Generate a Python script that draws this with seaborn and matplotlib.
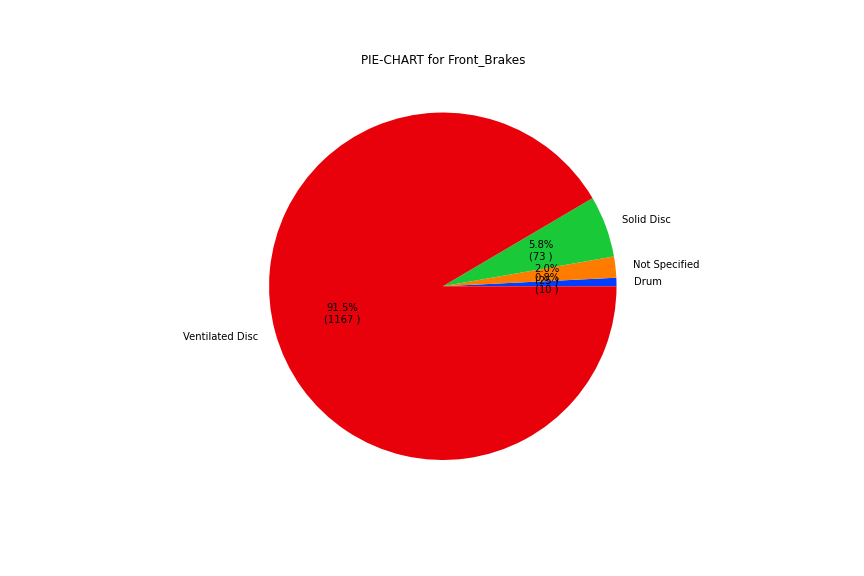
import matplotlib
matplotlib.use("Agg")
import matplotlib.pyplot as plt
import seaborn as sns

# Front brake types, ascending count
brake_types = ["Drum", "Not Specified", "Solid Disc", "Ventilated Disc"]
brake_counts = [10, 25, 73, 1167]
# percentages as printed on the chart
brake_pcts = [0.8, 2.0, 5.8, 91.5]

colors = sns.color_palette("bright", len(brake_types))

slice_labels = iter("{:.1f}%\n({:d} )".format(p, c) for p, c in zip(brake_pcts, brake_counts))

fig, ax = plt.subplots(figsize=(12, 8), dpi=72)
fig.subplots_adjust(bottom=0.126, top=0.88)
ax.pie(brake_counts, labels=brake_types, colors=colors,
       autopct=lambda pct: next(slice_labels))
ax.set_title("PIE-CHART for Front_Brakes")

plt.savefig("out.png", dpi=72)
